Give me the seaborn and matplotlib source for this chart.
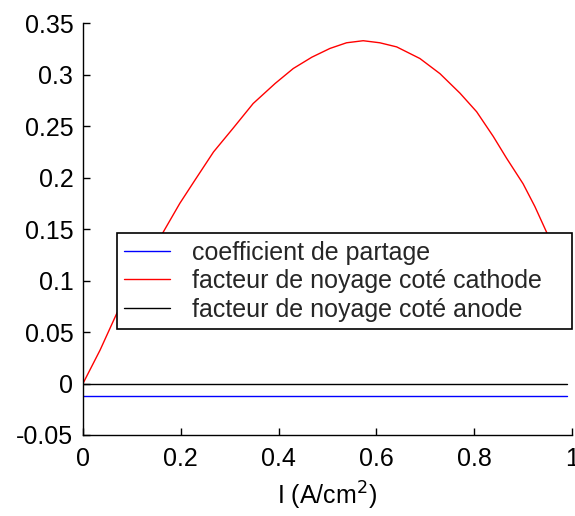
import numpy as np
import pandas as pd
import seaborn as sns
import matplotlib
matplotlib.use("Agg")
import matplotlib.pyplot as plt

# Data
x_red = [0.0, 0.035, 0.069, 0.164, 0.198, 0.229, 0.267, 0.307, 0.348, 0.393,
         0.430, 0.468, 0.505, 0.539, 0.573, 0.607, 0.6415, 0.689, 0.730, 0.771,
         0.805, 0.839, 0.866, 0.900, 0.924, 0.948, 0.99]
y_red = [0.0, 0.0325, 0.068, 0.147, 0.175, 0.1976, 0.225, 0.248, 0.272, 0.2915,
         0.306, 0.317, 0.3255, 0.331, 0.333, 0.331, 0.327, 0.3157, 0.301, 0.282,
         0.264, 0.240, 0.219, 0.194, 0.172, 0.147, 0.10]
x_flat = [0.0, 0.99]
y_blue = [-0.012, -0.012]
y_black = [0.0, 0.0]

labels = ["coefficient de partage",
          "facteur de noyage coté cathode",
          "facteur de noyage coté anode"]
colors = ["#0000ff", "#ff0000", "#000000"]

df = pd.concat([
    pd.DataFrame({"x": x_flat, "y": y_blue, "s": labels[0]}),
    pd.DataFrame({"x": x_red, "y": y_red, "s": labels[1]}),
    pd.DataFrame({"x": x_flat, "y": y_black, "s": labels[2]}),
], ignore_index=True)

sns.set_theme(style="ticks")
plt.rcParams["font.family"] = ["Liberation Sans", "DejaVu Sans"]

fs = 18
fig = plt.figure(figsize=(5.75, 5.16), dpi=100)
ax = fig.add_axes([0.1443, 0.157, 0.8505, 0.798])

sns.lineplot(data=df, x="x", y="y", hue="s", hue_order=labels,
             palette=dict(zip(labels, colors)), linewidth=1.0, ax=ax,
             sort=False, estimator=None)

ax.set_xlim(0, 1)
ax.set_ylim(-0.05, 0.35)
ax.set_xticks([0, 0.2, 0.4, 0.6, 0.8, 1])
ax.set_xticklabels(["0", "0.2", "0.4", "0.6", "0.8", "1"])
ax.set_yticks([-0.05, 0, 0.05, 0.1, 0.15, 0.2, 0.25, 0.3, 0.35])
ax.set_yticklabels(["-0.05", "0", "0.05", "0.1", "0.15", "0.2", "0.25", "0.3", "0.35"])
ax.tick_params(direction="in", length=5, width=1, labelsize=fs, colors="black")
ax.tick_params(axis="y", pad=7)
ax.tick_params(axis="x", pad=9)
ax.set_xlabel("I (A/cm$^2$)", fontsize=fs, color="black", labelpad=6)
ax.set_ylabel("")
for s in ["top", "right"]:
    ax.spines[s].set_visible(False)
for s in ["left", "bottom"]:
    ax.spines[s].set_color("black")
    ax.spines[s].set_linewidth(1)

leg = ax.legend(loc="upper left", bbox_to_anchor=(0.069, 0.0, 0.931, 0.49),
                mode="expand", borderaxespad=0,
                fontsize=fs, frameon=True, fancybox=False, shadow=False,
                handlelength=1.85, handletextpad=0.85, labelspacing=0.18,
                borderpad=0.3, title=None)
leg.get_frame().set_edgecolor("black")
leg.get_frame().set_linewidth(1.2)
leg.get_frame().set_alpha(1)
leg.set_zorder(10)

fig.savefig("out.png", dpi=100, facecolor="white")
